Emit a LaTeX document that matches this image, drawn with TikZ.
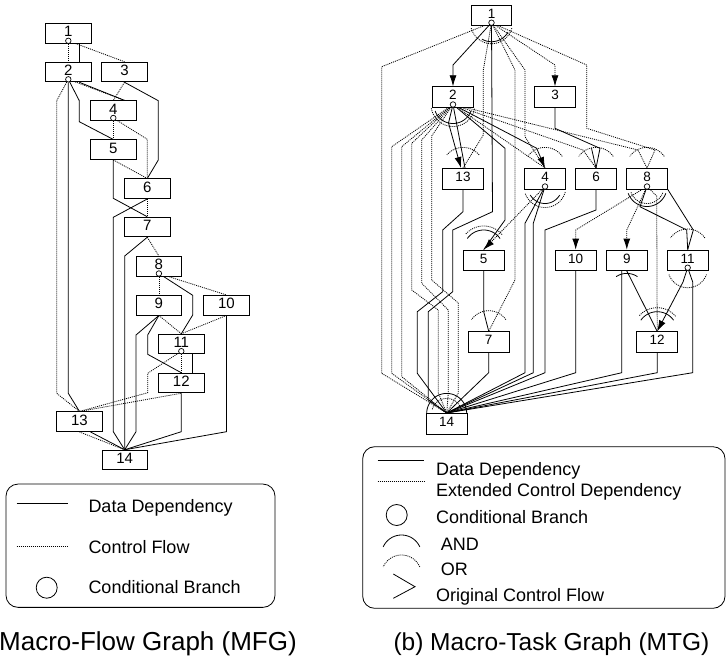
\documentclass[tikz,border=0pt]{standalone}
\usepackage{fontspec}
\setmainfont{Liberation Sans}
\usetikzlibrary{arrows.meta,calc}
\pgfdeclarelayer{bg}
\pgfsetlayers{bg,main}
\newcommand\garc[6]{\draw[#1] plot[domain=#5:#6,samples=30] ({#2+#4*cos(\x)},{#3-#4*sin(\x)});}
\begin{document}
\begin{tikzpicture}[x=1pt,y=-1pt,
  mbox/.style={draw,fill=white,line width=0.8pt,minimum width=45.3pt,minimum height=19.7pt,inner sep=0pt,text depth=3.5pt,font=\fontsize{15}{16}\selectfont},
  tbox/.style={mbox,minimum width=40.7pt,minimum height=20.6pt,font=\fontsize{13.5}{14}\selectfont},
  cbr/.style={circle,draw,fill=white,line width=0.7pt,minimum size=5.5pt,inner sep=0pt},
  dd/.style={line width=0.8pt},
  cf/.style={line width=0.8pt,dash pattern=on 1pt off 1pt},
  arr/.style={-{Latex[length=11pt,width=7pt]}},
  lgt/.style={anchor=base west,inner sep=0pt,font=\fontsize{18}{20}\selectfont},
  captxt/.style={anchor=base west,inner sep=0pt,font=\fontsize{24.5}{26}\selectfont},
]
\useasboundingbox (0,0) rectangle (726,665);

% ---------------- MFG nodes ----------------
\node[mbox] (a1) at (68.3,33.3) {1};
\node[mbox] (a2) at (68.3,72) {2};
\node[mbox] (a3) at (124.5,72) {3};
\node[mbox] (a4) at (113.3,110.7) {4};
\node[mbox] (a5) at (113.3,149.7) {5};
\node[mbox] (a6) at (147.3,188.7) {6};
\node[mbox] (a7) at (147.3,227) {7};
\node[mbox] (a8) at (158.9,266.3) {8};
\node[mbox] (a9) at (158.9,305.2) {9};
\node[mbox] (a10) at (226.5,305.2) {10};
\node[mbox] (a11) at (181.3,344) {11};
\node[mbox] (a12) at (181.3,383) {12};
\node[mbox] (a13) at (79.5,421.7) {13};
\node[mbox] (a14) at (124.7,460) {14};
\node[cbr] (ca1) at (68.3,40.8) {};
\node[cbr] (ca2) at (68.3,79.3) {};
\node[cbr] (ca4) at (113.3,118) {};
\node[cbr] (ca8) at (158.9,273.5) {};
\node[cbr] (ca11) at (181.3,351.2) {};

% ---------------- MTG nodes ----------------
\node[tbox] (b1) at (491.5,15.3) {1};
\node[tbox] (b2) at (453,97) {2};
\node[tbox] (b3) at (555,97) {3};
\node[tbox] (b13) at (463,178.7) {13};
\node[tbox] (b4) at (545,178.7) {4};
\node[tbox] (b6) at (596,178.7) {6};
\node[tbox] (b8) at (647,178.7) {8};
\node[tbox] (b5) at (483.7,260.3) {5};
\node[tbox] (b10) at (575.7,260.3) {10};
\node[tbox] (b9) at (626.8,260.3) {9};
\node[tbox] (b11) at (687.7,260.3) {11};
\node[tbox] (b7) at (488.7,342) {7};
\node[tbox] (b12) at (657.2,342) {12};
\node[tbox] (b14) at (446.7,423.7) {14};
\node[cbr] (cb1) at (491.5,22.7) {};
\node[cbr] (cb2) at (453,104.5) {};
\node[cbr] (cb4) at (545,186.5) {};
\node[cbr] (cb8) at (647,186.5) {};
\node[cbr] (cb11) at (687.7,267.7) {};
\coordinate (v6) at (591.5,148.3);

\begin{pgfonlayer}{bg}
% MFG control flow
\draw[cf] (ca1) -- (a2.north);
\draw[cf] (ca1) -- (a3.north);
\draw[cf] (ca2) -- (56.7,100.7) -- (56.7,393.3) -- (a13.north);
\draw[cf] (ca2) -- ($(a4.north)+(11.4,0)$);
\draw[cf] (a3.south) -- (a4.north);
\draw[cf] (ca4) -- (a5.north);
\draw[cf] (ca4) -- (147.3,139.3) -- (a6.north);
\draw[cf] (a5.south) -- (a6.north);
\draw[cf] (a6.south) -- (a7.north);
\draw[cf] (a7.south) -- (a8.north);
\draw[cf] (ca8) -- (a9.north);
\draw[cf] (ca8) -- (a10.north);
\draw[cf] (a9.south) -- (a11.north);
\draw[cf] (a10.south) -- (a11.north);
\draw[cf] (ca11) -- (a12.north);
\draw[cf] (ca11) -- (147.7,373.3) -- (147.7,392.7) -- (a13.north);
\draw[cf] (a12.south) -- (a13.north);
\draw[cf] (a13.south) -- (a14.north);
% MFG data dependency
\draw[dd] ($(a1.south)+(11,0)$) -- ($(a2.north)+(11,0)$);
\draw[dd] (ca2) -- (68.3,393.3) -- (a13.north);
\draw[dd] (ca2) -- (79.3,100.7) -- (79.3,121.7) -- (a5.north);
\draw[dd] ($(a2.south)+(11,0)$) -- ($(a4.north)+(11.4,0)$);
\draw[dd] (a3.south) -- (158.3,100.7) -- (158.3,160) -- (a6.north);
\draw[dd] (a5.south) -- (113.3,198.3) -- (a7.north);
\draw[dd] (a6.south) -- (113.3,217.3) -- (113.3,431.7) -- (a14.north);
\draw[dd] (a7.south) -- (124.7,256) -- (a14.north);
\draw[dd] (ca8) -- (192.7,295.3) -- (192.7,315) -- (a11.north);
\draw[dd] (a9.south) -- (136,335) -- (136,431.7) -- (a14.north);
\draw[dd] (a9.south) -- (147.7,335) -- (147.7,354.3) -- (a12.north);
\draw[dd] (a10.south) -- (226.5,431.7) -- (a14.north);
\draw[dd] ($(a11.south)+(11.4,0)$) -- ($(a12.north)+(11.4,0)$);
\draw[dd] (a12.south) -- (181.3,431.7) -- (a14.north);
\draw[dd] ($(a13.south)+(11,0)$) -- (a14.north);

% MTG from 1
\draw[dd,arr] (cb1) -- (453,65) -- (b2.north);
\draw[cf,arr] (cb1) -- (555,65) -- (b3.north);
\draw[cf] (cb1) -- (381.7,66.7) -- (381.7,373.3) -- (b14.north);
\draw[cf] (cb1) -- (483.3,70) -- (483.3,135) -- (b13.north);
\draw[cf] (cb1) -- (515,70) -- (515,280) -- (b7.north);
\draw[cf] (cb1) -- (525,70) -- (525,136.7) -- (b4.north);
\draw[cf] (cb1) -- (586.7,65) -- (586.7,128.3) -- (655,150) -- (b8.north);
\draw[dd] (cb1) -- (492.5,211.7) -- (452.7,230) -- (452.7,291.7) -- (428.3,311.7) -- (428.3,400) -- (b14.north);
% MTG from 2
\draw[cf] (cb2) -- (391.7,146.7) -- (391.7,373.3) -- (b14.north);
\draw[cf] (cb2) -- (401.7,146.7) -- (401.7,376.7) -- (b14.north);
\draw[cf] (cb2) -- (411.7,143.3) -- (411.7,290) -- (438.3,310) -- (438.3,393) -- (b14.north);
\draw[cf] (cb2) -- (421.7,140) -- (421.7,283.3) -- (448.3,310) -- (448.3,393) -- (b14.north);
\draw[cf] (cb2) -- (431.7,136) -- (431.7,280) -- (458.3,303) -- (458.3,393) -- (b14.north);
\draw[cf] (cb2) -- (b4.north);
\draw[cf] (cb2) -- (583,150) -- (b6.north);
\draw[cf] (cb2) -- (638,150) -- (b8.north);
\draw[dd,arr] (cb2) -- (448.5,123) -- ($(b13.north)+(-2,0)$);
\draw[dd] (cb2) -- ($(b13.north)+(2,0)$);
\draw[dd,arr] (cb2) -- (536.7,148.3) -- (b4.north);
\draw[dd] (cb2) -- (505,148.3) -- (505,220) -- (b5.north);
% MTG others
\draw[dd] (b3.south) -- (555,128.3) -- (600,148.3) -- (b6.north);
\draw[dd] (v6) -- (b6.north);
\draw[dd] (b13.south) -- (463,211.7) -- (442.7,230) -- (442.7,291.7) -- (417.3,311.7) -- (417.3,373.3) -- (b14.north);
\draw[dd] (cb4) -- (525,223.3) -- (525,372.7) -- (b14.north);
\draw[dd] (cb4) -- (533.3,223.3) -- (533.3,372.7) -- (b14.north);
\draw[dd] (b6.south) -- (596,210) -- (545,230) -- (545,372.7) -- (b14.north);
\draw[dd] (b5.south) -- (483.7,311.7) -- (b7.north);
\draw[dd] (b7.south) -- (488.7,372.7) -- (b14.north);
\draw[dd] (b10.south) -- (575.7,372.7) -- (b14.north);
\draw[dd] ($(b9.south)+(-5,0)$) -- (621.8,372.7) -- (b14.north);
\draw[dd] (b9.south) -- (b12.north);
\draw[dd] (b12.south) -- (657.2,372.7) -- (b14.north);
\draw[dd] (cb11) -- (692.7,282) -- (692.7,372.7) -- (b14.north);
\draw[dd,arr] (cb11) -- (683,282) -- (b12.north);
\draw[dd] (cb8) -- (640,206.7) -- (686.7,230) -- (b11.north);
\draw[dd] (b8.south east) -- (693.3,230) -- (b11.north);
\draw[cf,arr] (cb4) -- (b5.north);
\draw[cf,arr] (cb8) -- (575.7,230) -- (b10.north);
\draw[cf,arr] (cb8) -- (626.8,230) -- (b9.north);
\draw[cf] (cb8) -- (656.7,196) -- (b12.north);
% arcs
\garc{dd}{491.5}{22.7}{19}{240}{330}
\garc{cf}{491.5}{22.7}{21}{195}{345}
\garc{dd}{453}{104.5}{19}{200}{340}
\garc{cf}{453}{104.5}{22}{190}{350}
\garc{dd}{545}{186.5}{17}{210}{330}
\garc{cf}{545}{186.5}{21}{200}{345}
\garc{dd}{647}{186.5}{20}{200}{340}
\garc{cf}{647}{186.5}{17}{200}{340}
\garc{cf}{687.7}{267.7}{20}{200}{340}
\garc{cf}{463}{168.4}{21}{40}{140}
\garc{cf}{545}{168.4}{21}{35}{145}
\garc{cf}{596}{168.4}{21}{35}{145}
\garc{cf}{647}{168.4}{21}{35}{145}
\garc{dd}{483.7}{250}{20}{35}{145}
\garc{cf}{483.7}{250}{24}{40}{140}
\garc{cf}{488.7}{331.7}{21}{35}{145}
\garc{cf}{687.7}{250}{21}{35}{145}
\garc{dd}{657.2}{331.7}{20}{35}{145}
\garc{cf}{657.2}{331.7}{24}{40}{140}
\garc{dd}{626.8}{292.4}{19}{56}{124}
\garc{dd}{446.7}{413.4}{20}{0}{180}
\garc{cf}{446.7}{413.4}{15}{15}{165}
\end{pgfonlayer}

% ---------------- MFG legend ----------------
\node[draw,line width=0.8pt,rounded corners=12pt,minimum width=269pt,minimum height=123.3pt] (lga) at (140.5,545.7) {};
\coordinate (la1) at (16.7,503.3); \coordinate (la2) at (67.7,503.3);
\draw[dd] (la1) -- (la2);
\node[lgt] (lta1) at (88.3,512) {Data Dependency};
\coordinate (la3) at (16.7,546); \coordinate (la4) at (67.7,546);
\draw[cf] (la3) -- (la4);
\node[lgt] (lta2) at (88.3,553) {Control Flow};
\node[circle,draw,line width=0.8pt,minimum size=21pt,inner sep=0pt] (lac) at (46.7,587.7) {};
\node[lgt] (lta3) at (88.3,593) {Conditional Branch};

% ---------------- MTG legend ----------------
\node[draw,line width=0.8pt,rounded corners=12pt,minimum width=362.3pt,minimum height=161.6pt] (lgb) at (543.85,527.5) {};
\coordinate (lb1) at (377.7,460); \coordinate (lb2) at (424,460);
\draw[dd] (lb1) -- (lb2);
\node[lgt] (ltb1) at (436,475) {Data Dependency};
\coordinate (lb3) at (377.7,481.7); \coordinate (lb4) at (424,481.7);
\draw[cf] (lb3) -- (lb4);
\node[lgt] (ltb2) at (436,496) {Extended Control Dependency};
\node[circle,draw,line width=0.8pt,minimum size=21pt,inner sep=0pt] (lbc) at (396.7,515) {};
\node[lgt] (ltb3) at (436,523) {Conditional Branch};
\garc{dd}{401.5}{555}{20}{24}{156}
\node[lgt] (ltb4) at (440.7,550) {AND};
\garc{cf}{401.5}{575}{20}{24}{156}
\node[lgt] (ltb5) at (440.7,575) {OR};
\coordinate (lb5) at (393.3,574); \coordinate (lb6) at (415,586.7); \coordinate (lb7) at (393.3,598.3);
\draw[dd] (lb5) -- (lb6) -- (lb7);
\node[lgt] (ltb6) at (436,601) {Original Control Flow};

% ---------------- captions ----------------
\node[captxt,font=\fontsize{26}{28}\selectfont] (capa) at (-1,650) {Macro-Flow Graph (MFG)};
\node[captxt] (capb) at (393.3,650) {(b) Macro-Task Graph (MTG)};
\end{tikzpicture}
\end{document}
